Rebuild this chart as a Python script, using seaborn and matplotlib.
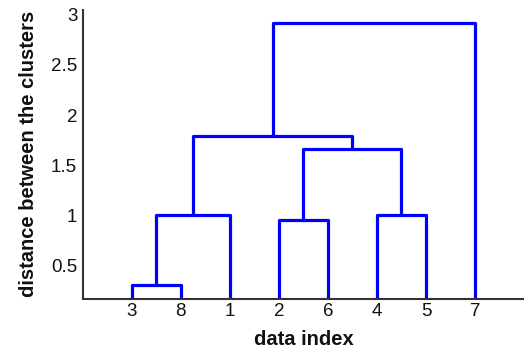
import matplotlib
matplotlib.use("Agg")
import matplotlib.pyplot as plt
import seaborn as sns
import pandas as pd

# Leaf order along the x axis (data indices)
leaf_labels = ["3", "8", "1", "2", "6", "4", "5", "7"]
# Merges: (left cluster, right cluster, height); clusters are leaf labels or merge ids "m0".."m6"
merge_left = ["3", "m0", "2", "4", "m2", "m1", "m5"]
merge_right = ["8", "1", "6", "5", "m3", "m4", "7"]
merge_height = [0.31, 1.00, 0.95, 1.00, 1.665, 1.79, 2.92]
y_ticks = [0.5, 1, 1.5, 2, 2.5, 3]
y_tick_labels = ["0.5", "1", "1.5", "2", "2.5", "3"]

sns.set_theme(style="white")
plt.rcParams["font.family"] = ["Liberation Sans", "DejaVu Sans"]

# Build U-shaped link segments from the merge list
xpos = {lab: i + 1 for i, lab in enumerate(leaf_labels)}
ypos = {lab: 0.0 for lab in leaf_labels}
rows = []
for k, (a, b, h) in enumerate(zip(merge_left, merge_right, merge_height)):
    xa, xb = xpos[a], xpos[b]
    ya, yb = ypos[a], ypos[b]
    for j, (x, y) in enumerate([(xa, ya), (xa, h), (xb, h), (xb, yb)]):
        rows.append({"link": k, "order": j, "x": x, "y": y})
    mid = f"m{k}"
    xpos[mid] = (xa + xb) / 2
    ypos[mid] = h
df = pd.DataFrame(rows)

fig = plt.figure(figsize=(5.24, 3.56), dpi=100)
ax = fig.add_axes([0.158, 0.161, 0.842, 0.812])
sns.lineplot(data=df, x="x", y="y", units="link", estimator=None, sort=False,
             color="#0000ff", linewidth=2.3, ax=ax, legend=False)

ax.set_xlim(0, len(leaf_labels) + 1)
ax.set_ylim(0.17, 3.05)
ax.set_xticks(range(1, len(leaf_labels) + 1))
ax.set_xticklabels(leaf_labels)
ax.set_yticks(y_ticks)
ax.set_yticklabels(y_tick_labels)
ax.tick_params(axis="both", direction="in", length=4, width=1.2, colors="#333333",
               labelsize=13.5, labelcolor="#111111", pad=4)
ax.tick_params(axis="x", length=0, pad=3)
for s in ["top", "right"]:
    ax.spines[s].set_visible(False)
for s in ["left", "bottom"]:
    ax.spines[s].set_color("#333333")
    ax.spines[s].set_linewidth(1.5)
ax.set_xlabel("data index", fontsize=14.5, fontweight="bold", labelpad=7, color="#111111")
ax.set_ylabel("distance between the clusters", fontsize=14.5, fontweight="bold",
              labelpad=9.5, color="#111111")

fig.savefig("out.png", dpi=100, facecolor="white")
